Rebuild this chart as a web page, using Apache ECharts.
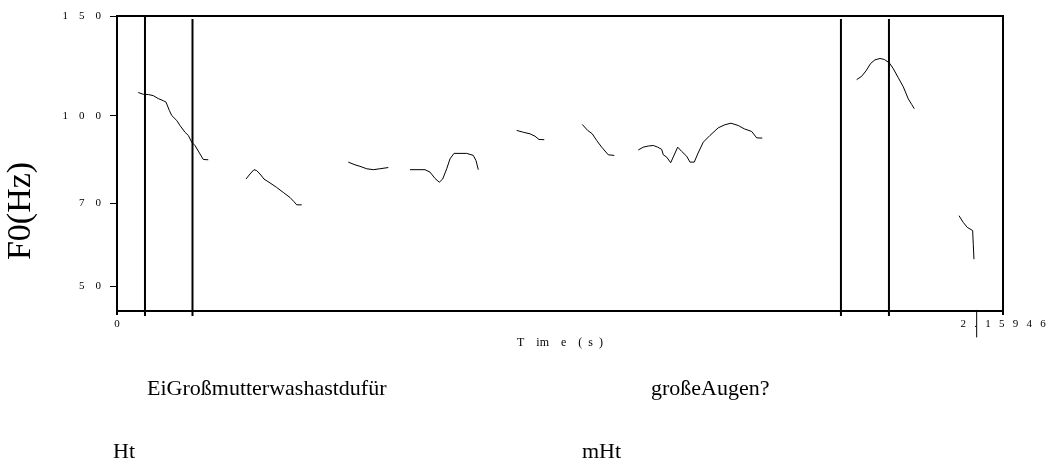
<!DOCTYPE html>
<html>
<head>
<meta charset="utf-8">
<script src="https://cdn.jsdelivr.net/npm/echarts@6/dist/echarts.min.js"></script>
<style>
html, body { margin: 0; padding: 0; background: #fff; }
#chart { width: 1048px; height: 467px; }
</style>
</head>
<body>
<div id="chart"></div>
<script>
// time axis (s) and F0 ticks (Hz, log spaced)
const tMax = 2.15946
const fMin = 45.2
const fMax = 150
const yTicks = [50, 70, 100, 150]

// pitch segments, [time s, F0 Hz]
const seg1 = [[0.0519, 109.9], [0.0641, 109.1], [0.0763, 109.0], [0.0885, 108.5], [0.1007, 107.2], [0.1128, 106.3],
  [0.1194, 105.7], [0.1275, 102.2], [0.1333, 100.1], [0.1455, 98.1], [0.1535, 96.1], [0.1657, 93.5], [0.1738, 92.3],
  [0.1821, 89.8], [0.1901, 88.6], [0.2023, 85.6], [0.2103, 83.7], [0.2225, 83.6]]
const seg2 = [[0.3144, 77.3], [0.3242, 78.9], [0.3339, 80.3], [0.3405, 80.0], [0.3485, 78.9], [0.3583, 77.3],
  [0.3729, 76.1], [0.3892, 74.7], [0.4053, 73.2], [0.4217, 71.7], [0.4314, 70.5], [0.4380, 69.6], [0.4502, 69.6]]
const seg3 = [[0.5637, 82.8], [0.5801, 81.9], [0.5923, 81.4], [0.6086, 80.6], [0.6247, 80.3], [0.6410, 80.6], [0.6612, 81.0]]
const seg4 = [[0.7141, 80.3], [0.7507, 80.3], [0.7629, 79.5], [0.7751, 77.5], [0.7855, 76.3], [0.7938, 77.3],
  [0.8036, 80.6], [0.8116, 83.9], [0.8214, 85.8], [0.8523, 85.8], [0.8684, 85.1], [0.8750, 83.3], [0.8806, 80.3]]
const seg5 = [[0.9742, 94.2], [0.9902, 93.5], [1.0066, 92.9], [1.0188, 92.0], [1.0285, 90.8], [1.0414, 90.7]]
const seg6 = [[1.1340, 96.5], [1.1472, 94.2], [1.1584, 92.9], [1.1692, 90.4], [1.1813, 88.0], [1.1974, 85.3], [1.2120, 85.1]]
const seg7 = [[1.2705, 87.0], [1.2827, 88.0], [1.2949, 88.4], [1.3071, 88.6], [1.3178, 88.0], [1.3276, 87.2],
  [1.3315, 85.3], [1.3398, 84.5], [1.3495, 82.6], [1.3666, 88.0], [1.3763, 86.5], [1.3885, 84.8], [1.3966, 82.8],
  [1.4070, 82.8], [1.4153, 85.6], [1.4289, 89.8], [1.4453, 92.3], [1.4655, 95.2], [1.4818, 96.4], [1.4964, 97.0],
  [1.5142, 96.1], [1.5289, 94.8], [1.5469, 93.8], [1.5591, 91.4], [1.5727, 91.3]]
const seg8 = [[1.8028, 115.8], [1.8150, 117.4], [1.8255, 120.0], [1.8369, 123.7], [1.8474, 125.5], [1.8596, 126.2],
  [1.8701, 125.7], [1.8823, 124.0], [1.8920, 121.1], [1.9042, 116.7], [1.9164, 112.5], [1.9286, 107.1],
  [1.9369, 104.7], [1.9432, 102.9]]
const seg9 = [[2.0522, 66.6], [2.0626, 64.8], [2.0724, 63.5], [2.0855, 62.7], [2.0870, 59.3], [2.0887, 55.8]]
const tail = [[2.0953, 45.4], [2.0953, 40.6]]

// segment boundaries (s) and their vertical extent (Hz)
const boundaries = [0.0682, 0.184, 1.7645, 1.8815]
const boundaryTop = [150, 148.2, 148.2, 148.2]
const boundaryBottom = 44.3

const words = ['EiGroßmutterwashastdufür', 'großeAugen?']
const tones = ['Ht', 'mHt']

const serif = 'Liberation Serif'
const spaced = (s, gap) => s.split('').join(gap)
const toLn = seg => seg.map(p => [p[0], Math.log(p[1])])

const series = []
;[seg1, seg2, seg3, seg4, seg5, seg6, seg7, seg8, seg9].forEach(seg => {
  series.push({
    type: 'line',
    data: toLn(seg),
    showSymbol: false,
    lineStyle: { color: '#000', width: 1 },
    silent: true
  })
})
series.push({
  type: 'line',
  data: toLn(tail),
  showSymbol: false,
  clip: false,
  lineStyle: { color: '#000', width: 1 },
  silent: true
})
boundaries.forEach((t, i) => {
  series.push({
    type: 'line',
    data: toLn([[t, boundaryTop[i]], [t, boundaryBottom]]),
    showSymbol: false,
    clip: false,
    lineStyle: { color: '#000', width: 2 },
    silent: true
  })
})

const chart = echarts.init(document.getElementById('chart'))
chart.setOption({
  animation: false,
  backgroundColor: '#fff',
  grid: {
    left: 117, right: 45, top: 16, bottom: 156,
    show: true, borderColor: '#000', borderWidth: 2,
    outerBoundsMode: 'none'
  },
  xAxis: {
    type: 'value',
    min: 0,
    max: tMax,
    name: 'T\u2003im\u2003e\u2003(\u2002s\u2002)',
    nameLocation: 'middle',
    nameGap: 26,
    nameTextStyle: { color: '#000', fontFamily: serif, fontSize: 12 },
    axisLine: { show: false },
    splitLine: { show: false },
    axisTick: { customValues: [0, tMax], length: 4, lineStyle: { color: '#000', width: 2 } },
    axisLabel: {
      customValues: [0, tMax],
      margin: 8,
      color: '#000',
      fontFamily: serif,
      fontSize: 11,
      formatter: v => spaced(String(v), '\u2002\u2005')
    }
  },
  yAxis: {
    type: 'value',
    min: Math.log(fMin),
    max: Math.log(fMax),
    axisLine: { show: false },
    splitLine: { show: false },
    axisTick: { customValues: yTicks.map(Math.log), length: 7, lineStyle: { color: '#000', width: 1 } },
    axisLabel: {
      customValues: yTicks.map(Math.log),
      margin: 16,
      color: '#000',
      fontFamily: serif,
      fontSize: 11,
      formatter: v => spaced(String(Math.round(Math.exp(v))), '\u2003')
    }
  },
  graphic: [
    {
      type: 'text', x: 21, y: 211, rotation: Math.PI / 2,
      style: { text: 'F0(Hz)', fontSize: 34, fontFamily: serif, fill: '#000', align: 'center', verticalAlign: 'middle' }
    },
    { type: 'text', x: 147, y: 389, style: { text: words[0], fontSize: 22, fontFamily: serif, fill: '#000', verticalAlign: 'middle' } },
    { type: 'text', x: 651, y: 389, style: { text: words[1], fontSize: 22, fontFamily: serif, fill: '#000', verticalAlign: 'middle' } },
    { type: 'text', x: 113, y: 452, style: { text: tones[0], fontSize: 22, fontFamily: serif, fill: '#000', verticalAlign: 'middle' } },
    { type: 'text', x: 582, y: 452, style: { text: tones[1], fontSize: 22, fontFamily: serif, fill: '#000', verticalAlign: 'middle' } }
  ],
  series: series
})
</script>
</body>
</html>
